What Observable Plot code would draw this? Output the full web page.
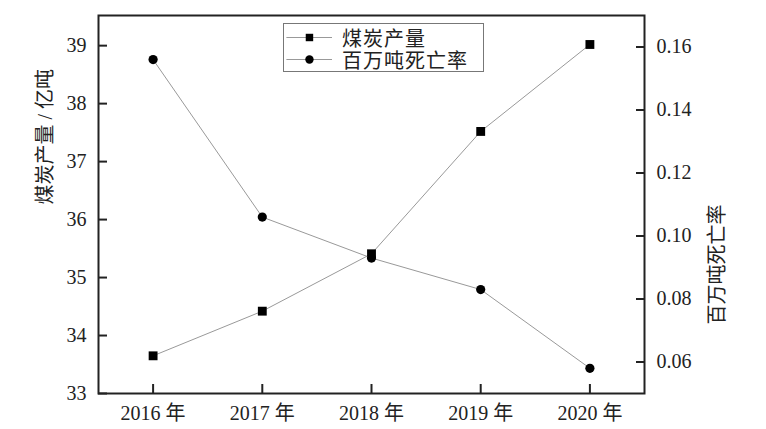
<!DOCTYPE html>
<html><head><meta charset="utf-8">
<script src="https://cdn.jsdelivr.net/npm/d3@7"></script>
<script src="https://cdn.jsdelivr.net/npm/@observablehq/plot@0.6"></script>
<style>
body{margin:0;background:#fff}
#wrap{position:relative;width:766px;height:429px;overflow:hidden}
#wrap > svg{position:absolute;left:0;top:0}
#wrap svg text, #wrap svg g{font-family:'Liberation Serif','Noto Sans CJK SC',serif !important;font-variant:normal !important;font-variant-numeric:normal !important}
#legend{position:absolute;left:283px;top:23px;width:199px;height:47px;border:1px solid #777;background:#fff;
  font-family:'Liberation Serif','Noto Sans CJK SC',serif;font-size:20px;color:#222}
#legend .row{position:absolute;left:0;height:22px;display:flex;align-items:center}
#legend .row span{margin-left:10px;letter-spacing:1px}
</style></head><body><div id="wrap"></div>
<script>
const years = [2016, 2017, 2018, 2019, 2020];
const yearLabels = ["2016 年", "2017 年", "2018 年", "2019 年", "2020 年"];
const coalOutput = [33.65, 34.42, 35.41, 37.52, 39.02];
const deathRate = [0.156, 0.106, 0.093, 0.083, 0.058];
const coalTicks = [33, 34, 35, 36, 37, 38, 39];
const rateTicks = [0.06, 0.08, 0.10, 0.12, 0.14, 0.16];
const seriesNames = ["煤炭产量", "百万吨死亡率"];
const leftTitle = "煤炭产量 / 亿吨";
const rightTitle = "百万吨死亡率";

const coalData = years.map((y, i) => ({year: y, value: coalOutput[i]}));
const rateData = years.map((y, i) => ({year: y, value: deathRate[i]}));

const font = "'Liberation Serif','Noto Sans CJK SC',serif";
const common = {
  width: 766, height: 429,
  marginLeft: 98, marginRight: 122, marginTop: 15, marginBottom: 36,
  style: {background: "transparent", fontFamily: font, fontSize: "20px", color: "#222"}
};

const p1 = Plot.plot({
  ...common,
  x: {domain: [2015.5, 2020.5]},
  y: {domain: [33, 39.52]},
  marks: [
    Plot.axisX(years, {tickSize: -9, tickPadding: 21, strokeWidth: 2, tickFormat: d => yearLabels[years.indexOf(d)], label: null, fontSize: 20, fontFamily: font}),
    Plot.axisY(coalTicks, {tickSize: -9, tickPadding: 21, strokeWidth: 2, tickFormat: d3.format("d"), label: null, fontSize: 20, fontFamily: font}),
    Plot.frame({stroke: "#222", strokeWidth: 2}),
    Plot.line(coalData, {x: "year", y: "value", stroke: "#999", strokeWidth: 1}),
    Plot.dot(coalData, {x: "year", y: "value", symbol: "square", r: 5, fill: "#000"}),
    Plot.text([leftTitle], {frameAnchor: "left", dx: -53, rotate: -90, fontSize: 20, fill: "#222", fontFamily: font})
  ]
});

const p2 = Plot.plot({
  ...common,
  x: {domain: [2015.5, 2020.5], axis: null},
  y: {domain: [0.05, 0.17]},
  marks: [
    Plot.axisY(rateTicks, {anchor: "right", tickSize: -9, tickPadding: 21, strokeWidth: 2, tickFormat: d3.format(".2f"), label: null, fontSize: 20, fontFamily: font}),
    Plot.line(rateData, {x: "year", y: "value", stroke: "#999", strokeWidth: 1}),
    Plot.dot(rateData, {x: "year", y: "value", symbol: "circle", r: 4.6, fill: "#000"}),
    Plot.text([rightTitle], {frameAnchor: "right", dx: 73, rotate: -90, fontSize: 20, fill: "#222", fontFamily: font})
  ]
});

const wrap = document.getElementById("wrap");
wrap.appendChild(p1);
wrap.appendChild(p2);

// legend
const lg = document.createElement("div");
lg.id = "legend";
const symbols = ["square", "circle"];
seriesNames.forEach((name, i) => {
  const row = document.createElement("div");
  row.className = "row";
  row.style.top = (i === 0 ? 2 : 24) + "px";
  const sw = Plot.plot({
    width: 48, height: 22, margin: 0,
    x: {domain: [0, 1], axis: null}, y: {domain: [0, 1], axis: null},
    style: {background: "transparent"},
    marks: [
      Plot.ruleY([0.5], {x1: 0.05, x2: 1, stroke: "#999", strokeWidth: 1}),
      Plot.dot([{x: 0.52, y: 0.5}], {x: "x", y: "y", symbol: symbols[i], r: 4.2, fill: "#000"})
    ]
  });
  row.appendChild(sw);
  const t = document.createElement("span");
  t.textContent = name;
  row.appendChild(t);
  lg.appendChild(row);
});
wrap.appendChild(lg);
</script></body></html>
